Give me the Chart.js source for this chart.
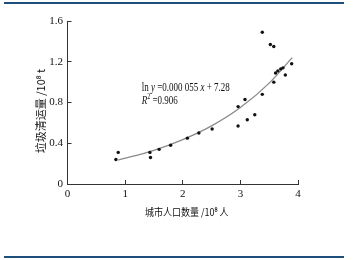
<!DOCTYPE html>
<html>
<head>
<meta charset="utf-8">
<script src="https://cdn.jsdelivr.net/npm/chart.js@4/dist/chart.umd.min.js"></script>
<style>
  body { margin: 0; background: #fff; }
  #wrap { position: relative; width: 354px; height: 260px; overflow: hidden; }
  #wrap canvas { position: absolute; left: 0; top: 0; }
  .rule { position: absolute; left: 4px; width: 340px; height: 2px; background: #1d4f7c; }
</style>
</head>
<body>
<div id="wrap">
  <canvas id="chart" width="354" height="260"></canvas>
  <div class="rule" style="top: 2px;"></div>
  <div class="rule" style="top: 256px;"></div>
</div>
<script>
// city population (10^8 people) vs garbage collected (10^8 t)
const popX = [0.84, 0.88, 1.43, 1.44, 1.59, 1.79, 2.08, 2.28, 2.51, 2.96, 3.12, 3.25,
              2.96, 3.08, 3.38, 3.58, 3.61, 3.65, 3.70, 3.74, 3.78, 3.89, 3.38, 3.52, 3.58];
const garbageY = [0.24, 0.31, 0.31, 0.26, 0.34, 0.38, 0.45, 0.50, 0.54, 0.57, 0.63, 0.68,
                  0.76, 0.83, 0.88, 1.00, 1.09, 1.11, 1.13, 1.14, 1.07, 1.18, 1.49, 1.37, 1.35];

// fitted curve
const fitX = [0.88, 1.5, 2.0, 2.5, 3.0, 3.5, 3.9];
const fitY = [0.235, 0.33, 0.435, 0.57, 0.75, 0.99, 1.24];

const xTicks = [0, 1, 2, 3, 4];
const yTicks = [0, 0.4, 0.8, 1.2, 1.6];

const eqText = 'ln y =0.000 055 x + 7.28';
const r2Text = '0.906';
const xTitle = '城市人口数量 /10⁸ 人';
const yTitle = '垃圾清运量 /10⁸ t';

const serif = '"Liberation Serif", "DejaVu Serif", serif';
const cjk = '"Noto Sans CJK SC", "Noto Sans", sans-serif';
const axisColor = '#333';

// draw one line of text made of pieces, some italic, squeezed horizontally
function drawPieces(ctx, pieces, x, y, size, squeeze) {
    ctx.save();
    ctx.translate(x, y);
    ctx.scale(squeeze, 1);
    let cx = 0;
    pieces.forEach(p => {
        const sz = p.sup ? size * 0.65 : size;
        ctx.font = (p.italic ? 'italic ' : '') + sz + 'px ' + serif;
        ctx.fillText(p.t, cx, p.sup ? -size * 0.35 : 0);
        cx += ctx.measureText(p.t).width;
    });
    ctx.restore();
}

const labelsPlugin = {
    id: 'labelsPlugin',
    afterDraw(chart) {
        const ctx = chart.ctx;
        const xs = chart.scales.x, ys = chart.scales.y;
        ctx.save();
        ctx.fillStyle = '#111';
        ctx.textBaseline = 'middle';
        ctx.textAlign = 'left';

        // equation + R^2
        const ex = xs.getPixelForValue(1.29);
        const parts = eqText.split(/(y|x)/);
        drawPieces(ctx, parts.filter(s => s !== '').map(s => ({ t: s, italic: s === 'x' || s === 'y' })),
            ex, ys.getPixelForValue(0.94), 11.5, 0.78);
        drawPieces(ctx, [{ t: 'R', italic: true }, { t: '2', sup: true }, { t: ' =' + r2Text }],
            ex, ys.getPixelForValue(0.815), 11.5, 0.78);

        // axis titles
        ctx.textAlign = 'center';
        ctx.font = '10px ' + cjk;
        ctx.save();
        ctx.translate((xs.left + xs.right) / 2 + 4, 212);
        ctx.scale(0.9, 1);
        ctx.fillText(xTitle, 0, 0);
        ctx.restore();

        ctx.translate(41, 111);
        ctx.rotate(-Math.PI / 2);
        ctx.font = '11px ' + cjk;
        ctx.fillText(yTitle, 0, 0);
        ctx.restore();
    }
};

new Chart(document.getElementById('chart'), {
    data: {
        datasets: [{
            type: 'scatter',
            data: popX.map((x, i) => ({ x: x, y: garbageY[i] })),
            pointRadius: 1.7,
            pointBackgroundColor: '#111',
            pointBorderWidth: 0,
            order: 1
        }, {
            type: 'line',
            data: fitX.map((x, i) => ({ x: x, y: fitY[i] })),
            borderColor: '#8a8a8a',
            borderWidth: 1.3,
            pointRadius: 0,
            cubicInterpolationMode: 'monotone',
            fill: false,
            order: 2
        }]
    },
    options: {
        responsive: false,
        animation: false,
        devicePixelRatio: 1,
        layout: { padding: { left: 0, top: 21, right: 56, bottom: 0 } },
        plugins: { legend: { display: false }, tooltip: { enabled: false } },
        scales: {
            x: {
                type: 'linear',
                min: 0, max: 4,
                afterFit: s => { s.height = 76; },
                afterBuildTicks: s => { s.ticks = xTicks.map(v => ({ value: v })); },
                border: { display: true, color: axisColor, width: 1 },
                grid: { display: true, drawOnChartArea: false, drawTicks: true, tickLength: -4, tickColor: axisColor },
                ticks: { color: '#111', padding: 8, font: { family: serif, size: 11 } }
            },
            y: {
                type: 'linear',
                min: 0, max: 1.6,
                afterFit: s => { s.width = 67.5; },
                afterBuildTicks: s => { s.ticks = yTicks.map(v => ({ value: v })); },
                border: { display: true, color: axisColor, width: 1 },
                grid: { display: true, drawOnChartArea: false, drawTicks: true, tickLength: -4, tickColor: axisColor },
                ticks: { color: '#111', padding: 8.5, font: { family: serif, size: 11 } }
            }
        }
    },
    plugins: [labelsPlugin]
});
</script>
</body>
</html>
